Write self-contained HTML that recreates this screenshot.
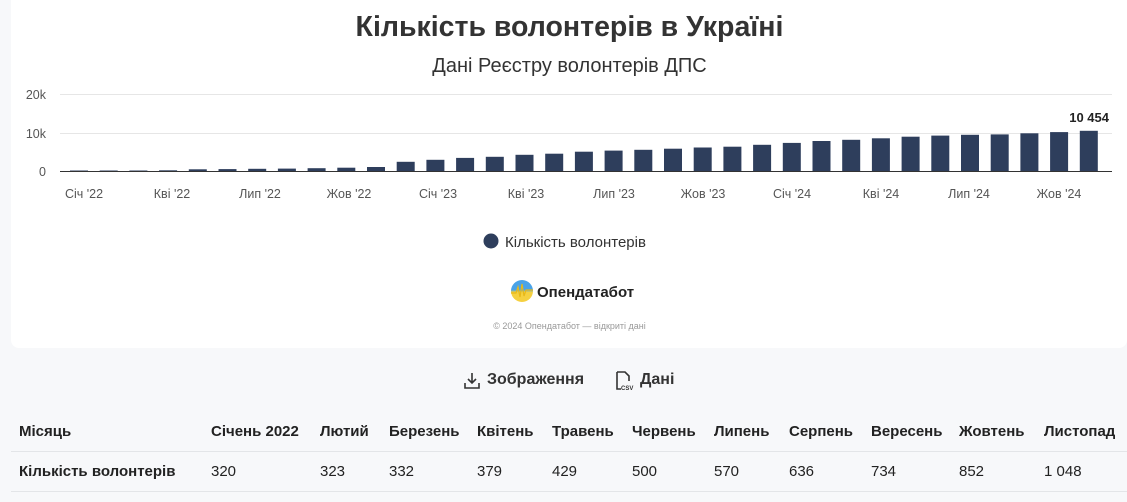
<!DOCTYPE html>
<html><head><meta charset="utf-8"><style>
body{margin:0;width:1127px;height:502px;background:#f7f8fa;font-family:"Liberation Sans","DejaVu Sans",sans-serif;position:relative;overflow:hidden;color:#222}
.card{position:absolute;left:11px;top:0;width:1116px;height:348px;background:#fff;border-radius:0 0 8px 8px}
.t{position:absolute;white-space:nowrap}
.th{font-weight:bold;font-size:15px;top:423px}
.td{font-size:15px;top:463px}
.line{position:absolute;left:11px;width:1116px;height:1px;background:#e3e5e8}
</style></head><body>
<div class="card"></div>
<div class="t" style="left:0;width:1139px;text-align:center;top:11px;font-size:28.5px;font-weight:bold;color:#333">Кількість волонтерів в Україні</div>
<div class="t" style="left:0;width:1139px;text-align:center;top:55px;font-size:20px;color:#333">Дані Реєстру волонтерів ДПС</div>
<svg style="position:absolute;left:0;top:0" width="1127" height="320">
<g stroke="#e6e6e6" stroke-width="1"><line x1="60" x2="1112" y1="94.5" y2="94.5"/><line x1="60" x2="1112" y1="133.5" y2="133.5"/></g>
<line x1="60" x2="1112" y1="171.5" y2="171.5" stroke="#333" stroke-width="1"/>
<g font-size="12.5" fill="#555" text-anchor="end"><text x="46" y="99">20k</text><text x="46" y="138">10k</text><text x="46" y="176">0</text></g>
<g fill="#2e3e5c">
<rect x="70" y="170.5" width="18" height="0.5"/><rect x="99.7" y="170.5" width="18" height="0.5"/><rect x="129.4" y="170.5" width="18" height="0.5"/><rect x="159.1" y="170.3" width="18" height="0.7"/><rect x="188.8" y="169.3" width="18" height="1.7"/><rect x="218.5" y="169.1" width="18" height="1.9"/><rect x="248.2" y="168.8" width="18" height="2.2"/><rect x="277.9" y="168.6" width="18" height="2.4"/><rect x="307.6" y="168.2" width="18" height="2.8"/><rect x="337.3" y="167.7" width="18" height="3.3"/><rect x="367" y="167" width="18" height="4"/><rect x="396.7" y="161.8" width="18" height="9.2"/><rect x="426.4" y="159.8" width="18" height="11.2"/><rect x="456.1" y="157.9" width="18" height="13.1"/><rect x="485.8" y="156.8" width="18" height="14.2"/><rect x="515.5" y="154.8" width="18" height="16.2"/><rect x="545.2" y="153.7" width="18" height="17.3"/><rect x="574.9" y="151.7" width="18" height="19.3"/><rect x="604.6" y="150.6" width="18" height="20.4"/><rect x="634.3" y="149.8" width="18" height="21.2"/><rect x="664" y="148.7" width="18" height="22.3"/><rect x="693.7" y="147.5" width="18" height="23.5"/><rect x="723.4" y="146.7" width="18" height="24.3"/><rect x="753.1" y="144.8" width="18" height="26.2"/><rect x="782.8" y="142.9" width="18" height="28.1"/><rect x="812.5" y="141" width="18" height="30"/><rect x="842.2" y="139.8" width="18" height="31.2"/><rect x="871.9" y="138.3" width="18" height="32.7"/><rect x="901.6" y="136.7" width="18" height="34.3"/><rect x="931.3" y="135.6" width="18" height="35.4"/><rect x="961" y="134.8" width="18" height="36.2"/><rect x="990.7" y="134.4" width="18" height="36.6"/><rect x="1020.4" y="133.3" width="18" height="37.7"/><rect x="1050.1" y="132.1" width="18" height="38.9"/><rect x="1079.8" y="130.8" width="18" height="40.2"/>
</g>
<text x="1109" y="122" font-size="13" font-weight="bold" fill="#222" text-anchor="end">10 454</text>
<g font-size="12.5" fill="#555" text-anchor="middle">
<text x="84" y="198">Січ '22</text><text x="172" y="198">Кві '22</text><text x="260" y="198">Лип '22</text><text x="349" y="198">Жов '22</text><text x="438" y="198">Січ '23</text><text x="526" y="198">Кві '23</text><text x="614" y="198">Лип '23</text><text x="703" y="198">Жов '23</text><text x="792" y="198">Січ '24</text><text x="881" y="198">Кві '24</text><text x="969" y="198">Лип '24</text><text x="1059" y="198">Жов '24</text>
</g>
<circle cx="491" cy="241" r="7.5" fill="#2e3e5c"/>
<text x="505" y="247" font-size="15" fill="#333">Кількість волонтерів</text>
<defs><linearGradient id="g" x1="0" y1="0" x2="0" y2="1"><stop offset="0.45" stop-color="#4aa3e8"/><stop offset="0.55" stop-color="#f5d040"/></linearGradient></defs>
<circle cx="522" cy="291" r="11" fill="url(#g)"/>
<polyline points="511,293 516,293 518,287 520,297 522,284 524,296 526,290 533,290" fill="none" stroke="#e8b818" stroke-width="1.2"/>
<text x="537" y="297" font-size="15" font-weight="bold" fill="#222">Опендатабот</text>
</svg>
<div class="t" style="left:0;width:1139px;text-align:center;top:321px;font-size:9px;color:#999">© 2024 Опендатабот — відкриті дані</div>
<svg style="position:absolute;left:463px;top:372px" width="18" height="18"><path d="M9 1v10M5 7l4 4 4-4M2 11v5h14v-5" fill="none" stroke="#333" stroke-width="1.6"/></svg>
<div class="t" style="left:487px;top:371px;font-size:16px;font-weight:bold;color:#333">Зображення</div>
<svg style="position:absolute;left:614px;top:371px" width="20" height="20"><path d="M3 1h8l4 4v5M3 1v17h4" fill="none" stroke="#333" stroke-width="1.6"/><text x="7" y="19" font-size="6" font-weight="bold" fill="#333">CSV</text></svg>
<div class="t" style="left:640px;top:371px;font-size:16px;font-weight:bold;color:#333">Дані</div>
<div class="t th" style="left:19px">Місяць</div>
<div class="t th" style="left:211px">Січень 2022</div>
<div class="t th" style="left:320px">Лютий</div>
<div class="t th" style="left:389px">Березень</div>
<div class="t th" style="left:477px">Квітень</div>
<div class="t th" style="left:552px">Травень</div>
<div class="t th" style="left:632px">Червень</div>
<div class="t th" style="left:714px">Липень</div>
<div class="t th" style="left:789px">Серпень</div>
<div class="t th" style="left:871px">Вересень</div>
<div class="t th" style="left:959px">Жовтень</div>
<div class="t th" style="left:1044px">Листопад</div>
<div class="line" style="top:451px"></div>
<div class="t td" style="left:19px;font-weight:bold">Кількість волонтерів</div>
<div class="t td" style="left:211px">320</div>
<div class="t td" style="left:320px">323</div>
<div class="t td" style="left:389px">332</div>
<div class="t td" style="left:477px">379</div>
<div class="t td" style="left:552px">429</div>
<div class="t td" style="left:632px">500</div>
<div class="t td" style="left:714px">570</div>
<div class="t td" style="left:789px">636</div>
<div class="t td" style="left:871px">734</div>
<div class="t td" style="left:959px">852</div>
<div class="t td" style="left:1044px">1 048</div>
<div class="line" style="top:491px"></div>
</body></html>
